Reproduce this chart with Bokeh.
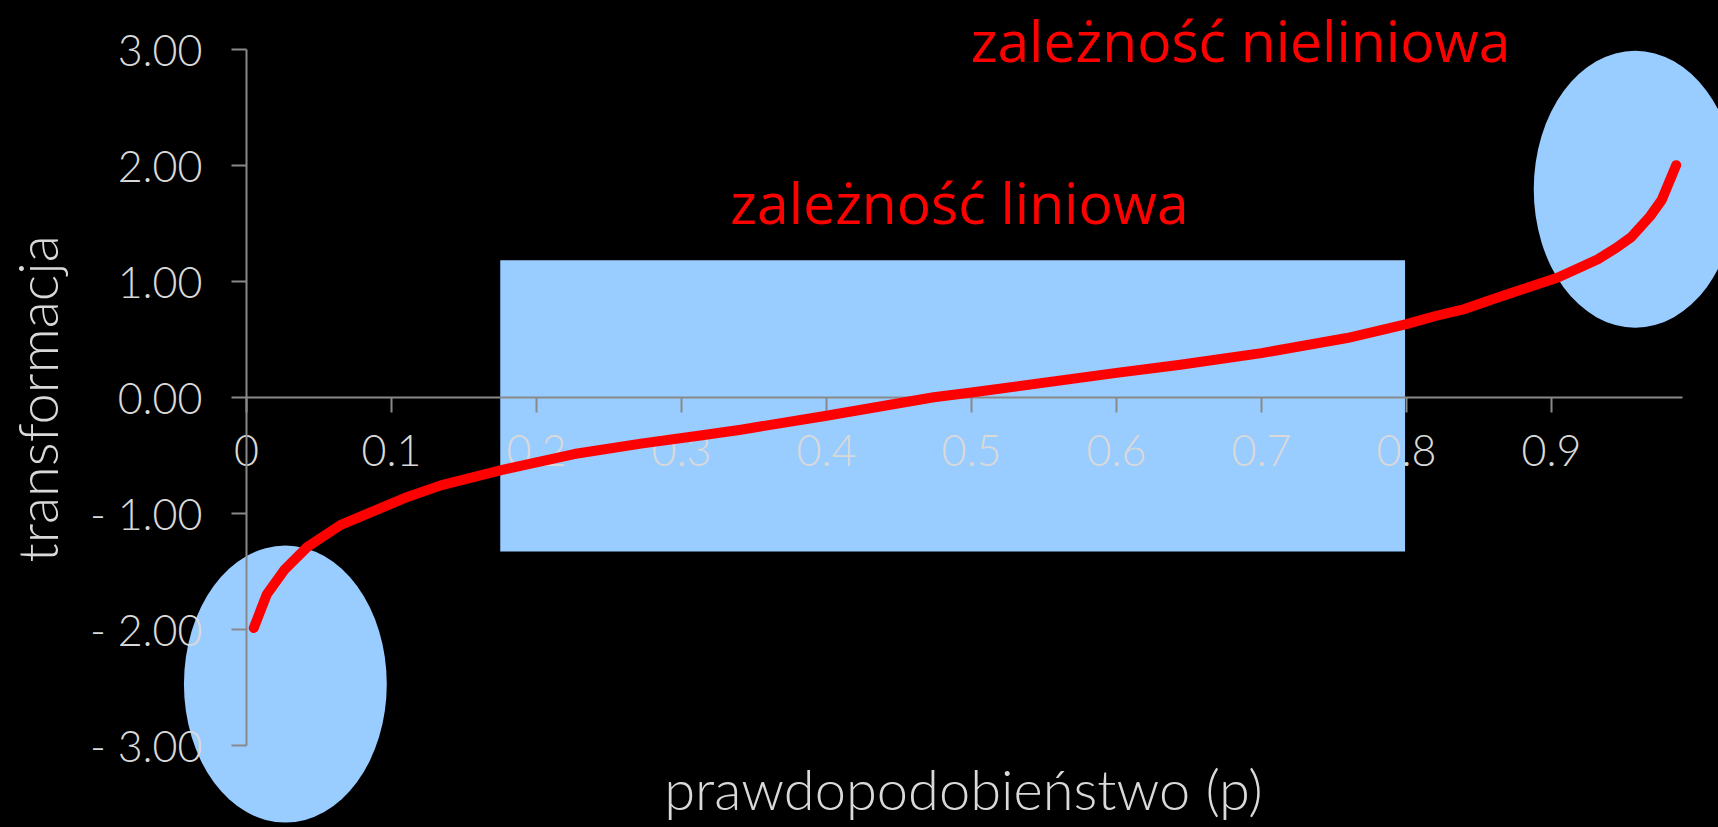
import math
from bokeh.plotting import figure
from bokeh.models import Range1d, LinearAxis, FixedTicker, Label
from bokeh.embed import file_html
from bokeh.resources import INLINE

# ---- data ----
p_vals = [0.005, 0.014, 0.026, 0.042, 0.065, 0.088, 0.111, 0.134, 0.175, 0.226,
          0.272, 0.313, 0.341, 0.400, 0.474, 0.500, 0.600, 0.644, 0.700, 0.759,
          0.800, 0.820, 0.840, 0.863, 0.880, 0.904, 0.920, 0.932, 0.945, 0.955,
          0.968, 0.976, 0.986]
t_vals = [-1.99, -1.70, -1.49, -1.29, -1.10, -0.98, -0.86, -0.76, -0.63, -0.49,
          -0.40, -0.33, -0.28, -0.16, 0.00, 0.04, 0.21, 0.28, 0.38, 0.51,
          0.63, 0.70, 0.76, 0.86, 0.93, 1.03, 1.12, 1.19, 1.29, 1.38,
          1.56, 1.70, 2.00]

x_tick_vals = [0, 0.1, 0.2, 0.3, 0.4, 0.5, 0.6, 0.7, 0.8, 0.9]
x_tick_labels = ["0", "0.1", "0.2", "0.3", "0.4", "0.5", "0.6", "0.7", "0.8", "0.9"]
y_tick_vals = [-3, -2, -1, 0, 1, 2, 3]
y_tick_labels = ["- 3.00", "- 2.00", "- 1.00", "0.00", "1.00", "2.00", "3.00"]

# highlighted regions (data units)
lin_left = [0.175]
lin_right = [0.799]
lin_bottom = [-1.33]
lin_top = [1.18]
nonlin_x = [0.0268, 0.9577]
nonlin_y = [-2.473, 1.793]
nonlin_w = [0.1399, 0.1399]
nonlin_h = [2.39, 2.39]

x_title = "prawdopodobieństwo (p)"
y_title = "transformacja"
note_lin = "zależność liniowa"
note_nonlin = "zależność nieliniowa"

# ---- layout (pixel geometry of the reference) ----
W, H = 1718, 827
X0_PX, Y0_PX = 246.0, 396.7      # pixel position of data (0, 0)
SX, SY = 1450.0, 116.0           # pixels per data unit
BASE_SHIFT = 0.42                # label anchor correction, in em


def dx(px):
    return (px - X0_PX) / SX


def dy(py):
    return (Y0_PX - py) / SY


p = figure(width=W, height=H,
           x_range=Range1d(dx(0), dx(W)),
           y_range=Range1d(dy(H), dy(0)),
           x_axis_location=None, y_axis_location=None,
           toolbar_location=None, output_backend="svg",
           min_border=0, background_fill_color="black",
           border_fill_color="black", outline_line_color=None)
p.xgrid.visible = False
p.ygrid.visible = False

BLUE = "#99CCFF"
GRAY_TXT = "#D9D9D9"
AXIS_COL = "#898989"
LIGHT_FONT = "Lato Light"

p.quad(left=lin_left, right=lin_right, bottom=lin_bottom, top=lin_top,
       fill_color=BLUE, line_color=None, level="image")
p.ellipse(x=nonlin_x, y=nonlin_y, width=nonlin_w, height=nonlin_h,
          fill_color=BLUE, line_color=None, level="image")

p.line(p_vals, t_vals, line_color="#FF0000", line_width=10,
       line_cap="round", line_join="round")


def style_axis(ax):
    ax.axis_line_color = AXIS_COL
    ax.axis_line_width = 2
    ax.major_tick_line_color = AXIS_COL
    ax.major_tick_line_width = 2
    ax.major_tick_out = 15
    ax.major_tick_in = 0
    ax.minor_tick_out = 0
    ax.minor_tick_in = 0
    ax.major_label_text_color = GRAY_TXT
    ax.major_label_text_font = LIGHT_FONT
    ax.major_label_text_font_size = "43px"
    ax.level = "underlay"


xaxis = LinearAxis(fixed_location=0, bounds=(0, 0.99),
                   ticker=FixedTicker(ticks=x_tick_vals),
                   major_label_overrides=dict(zip(x_tick_vals, x_tick_labels)))
style_axis(xaxis)
xaxis.major_label_standoff = 23
p.add_layout(xaxis, "below")

yaxis = LinearAxis(fixed_location=0, bounds=(-3, 3),
                   ticker=FixedTicker(ticks=y_tick_vals),
                   major_label_overrides=dict(zip(y_tick_vals, y_tick_labels)))
style_axis(yaxis)
yaxis.major_label_standoff = 29
p.add_layout(yaxis, "left")

RED_SIZE = 57
TITLE_SIZE = 56
p.add_layout(Label(x=dx(959), y=dy(225 - BASE_SHIFT * RED_SIZE), text=note_lin,
                   text_color="#FF0000", text_font="Open Sans",
                   text_font_size=f"{RED_SIZE}px",
                   text_align="center", text_baseline="alphabetic"))
p.add_layout(Label(x=dx(1240), y=dy(63 - BASE_SHIFT * RED_SIZE), text=note_nonlin,
                   text_color="#FF0000", text_font="Open Sans",
                   text_font_size=f"{RED_SIZE}px",
                   text_align="center", text_baseline="alphabetic"))
p.add_layout(Label(x=dx(963), y=dy(811.7 - BASE_SHIFT * TITLE_SIZE), text=x_title,
                   text_color=GRAY_TXT, text_font=LIGHT_FONT,
                   text_font_size=f"{TITLE_SIZE}px",
                   text_align="center", text_baseline="alphabetic"))
p.add_layout(Label(x=dx(59.3 - BASE_SHIFT * TITLE_SIZE), y=dy(398.3), text=y_title,
                   text_color=GRAY_TXT, text_font=LIGHT_FONT,
                   text_font_size=f"{TITLE_SIZE}px", angle=math.pi / 2,
                   text_align="center", text_baseline="alphabetic"))

html = file_html(p, INLINE, title="transformacja")
html = html.replace("</head>", "<style>html, body { background: #000000; }</style></head>", 1)
open("out.html", "w").write(html)
